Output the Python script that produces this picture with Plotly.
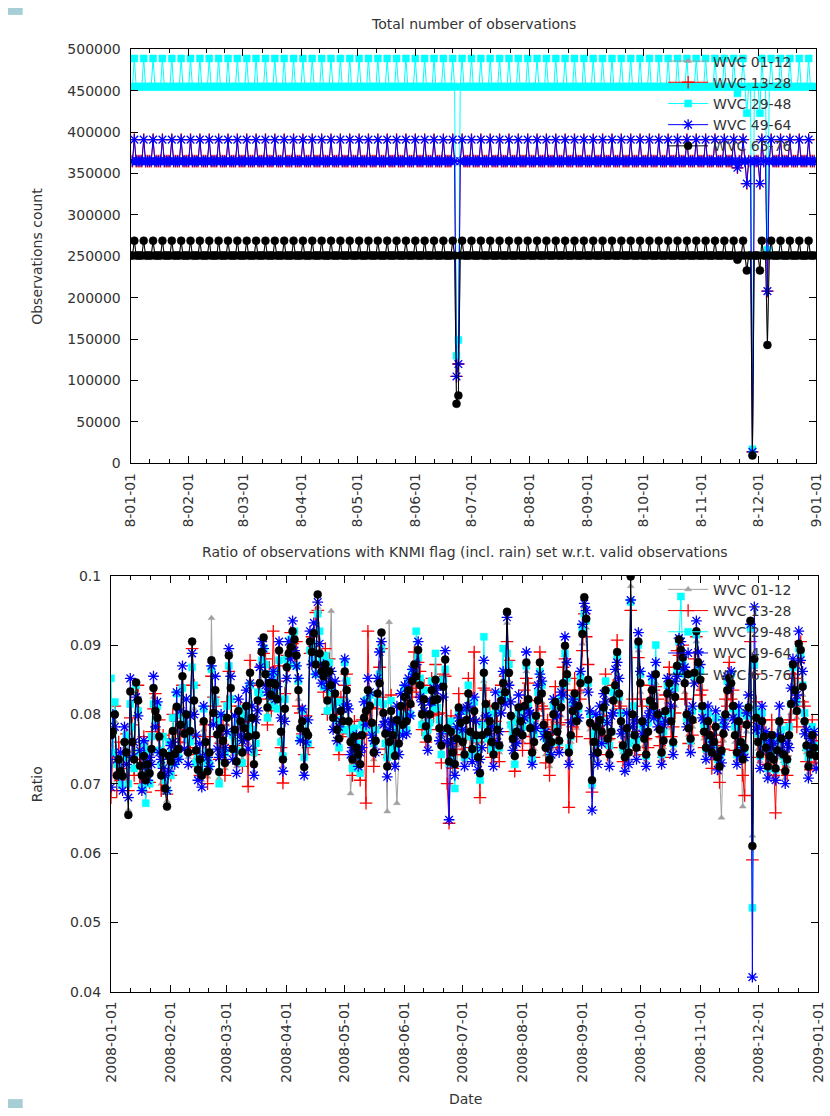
import pandas as pd
import plotly.graph_objects as go

# ---------------- data ----------------
dates = pd.date_range("2008-01-01", "2008-12-31", freq="D")

# Top panel: total number of observations per day, in thousands
# outer swath cells (WVC 01-12 and 65-76)
count_outer_k = [
    251, 251, 269, 251, 251, 251, 251, 269, 251, 251,
    251, 251, 269, 251, 251, 251, 251, 269, 251, 251,
    251, 251, 269, 251, 251, 251, 251, 269, 251, 251,
    251, 251, 269, 251, 251, 251, 251, 269, 251, 251,
    251, 251, 269, 251, 251, 251, 251, 269, 251, 251,
    251, 251, 269, 251, 251, 251, 251, 269, 251, 251,
    251, 251, 269, 251, 251, 251, 251, 269, 251, 251,
    251, 251, 269, 251, 251, 251, 251, 269, 251, 251,
    251, 251, 269, 251, 251, 251, 251, 269, 251, 251,
    251, 251, 269, 251, 251, 251, 251, 269, 251, 251,
    251, 251, 269, 251, 251, 251, 251, 269, 251, 251,
    251, 251, 269, 251, 251, 251, 251, 269, 251, 251,
    251, 251, 269, 251, 251, 251, 251, 269, 251, 251,
    251, 251, 269, 251, 251, 251, 251, 269, 251, 251,
    251, 251, 269, 251, 251, 251, 251, 269, 251, 251,
    251, 251, 269, 251, 251, 251, 251, 269, 251, 251,
    251, 251, 269, 251, 251, 251, 251, 269, 251, 251,
    251, 251, 269, 251, 72, 82, 251, 269, 251, 251,
    251, 251, 269, 251, 251, 251, 251, 269, 251, 251,
    251, 251, 269, 251, 251, 251, 251, 269, 251, 251,
    251, 251, 269, 251, 251, 251, 251, 269, 251, 251,
    251, 251, 269, 251, 251, 251, 251, 269, 251, 251,
    251, 251, 269, 251, 251, 251, 251, 269, 251, 251,
    251, 251, 269, 251, 251, 251, 251, 269, 251, 251,
    251, 251, 269, 251, 251, 251, 251, 269, 251, 251,
    251, 251, 269, 251, 251, 251, 251, 269, 251, 251,
    251, 251, 269, 251, 251, 251, 251, 269, 251, 251,
    251, 251, 269, 251, 251, 251, 251, 269, 251, 251,
    251, 251, 269, 251, 251, 251, 251, 269, 251, 251,
    251, 251, 269, 251, 251, 251, 251, 269, 251, 251,
    251, 251, 269, 251, 251, 251, 251, 269, 251, 251,
    251, 251, 269, 251, 251, 251, 251, 269, 251, 251,
    251, 251, 269, 251, 246, 251, 251, 269, 251, 233,
    251, 251, 9.5, 251, 251, 251, 233, 269, 251, 251,
    143, 251, 269, 251, 251, 251, 251, 269, 251, 251,
    251, 251, 269, 251, 251, 251, 251, 269, 251, 251,
    251, 251, 269, 251, 251, 251,
]
# inner swath cells (WVC 13-28 and 49-64)
count_inner_k = [
    365, 365, 391, 365, 365, 365, 365, 391, 365, 365,
    365, 365, 391, 365, 365, 365, 365, 391, 365, 365,
    365, 365, 391, 365, 365, 365, 365, 391, 365, 365,
    365, 365, 391, 365, 365, 365, 365, 391, 365, 365,
    365, 365, 391, 365, 365, 365, 365, 391, 365, 365,
    365, 365, 391, 365, 365, 365, 365, 391, 365, 365,
    365, 365, 391, 365, 365, 365, 365, 391, 365, 365,
    365, 365, 391, 365, 365, 365, 365, 391, 365, 365,
    365, 365, 391, 365, 365, 365, 365, 391, 365, 365,
    365, 365, 391, 365, 365, 365, 365, 391, 365, 365,
    365, 365, 391, 365, 365, 365, 365, 391, 365, 365,
    365, 365, 391, 365, 365, 365, 365, 391, 365, 365,
    365, 365, 391, 365, 365, 365, 365, 391, 365, 365,
    365, 365, 391, 365, 365, 365, 365, 391, 365, 365,
    365, 365, 391, 365, 365, 365, 365, 391, 365, 365,
    365, 365, 391, 365, 365, 365, 365, 391, 365, 365,
    365, 365, 391, 365, 365, 365, 365, 391, 365, 365,
    365, 365, 391, 365, 105, 120, 365, 391, 365, 365,
    365, 365, 391, 365, 365, 365, 365, 391, 365, 365,
    365, 365, 391, 365, 365, 365, 365, 391, 365, 365,
    365, 365, 391, 365, 365, 365, 365, 391, 365, 365,
    365, 365, 391, 365, 365, 365, 365, 391, 365, 365,
    365, 365, 391, 365, 365, 365, 365, 391, 365, 365,
    365, 365, 391, 365, 365, 365, 365, 391, 365, 365,
    365, 365, 391, 365, 365, 365, 365, 391, 365, 365,
    365, 365, 391, 365, 365, 365, 365, 391, 365, 365,
    365, 365, 391, 365, 365, 365, 365, 391, 365, 365,
    365, 365, 391, 365, 365, 365, 365, 391, 365, 365,
    365, 365, 391, 365, 365, 365, 365, 391, 365, 365,
    365, 365, 391, 365, 365, 365, 365, 391, 365, 365,
    365, 365, 391, 365, 365, 365, 365, 391, 365, 365,
    365, 365, 391, 365, 365, 365, 365, 391, 365, 365,
    365, 365, 391, 365, 357, 365, 365, 391, 365, 338,
    365, 365, 14, 365, 365, 365, 338, 391, 365, 365,
    208, 365, 391, 365, 365, 365, 365, 391, 365, 365,
    365, 365, 391, 365, 365, 365, 365, 391, 365, 365,
    365, 365, 391, 365, 365, 365,
]
# middle swath cells (WVC 29-48)
count_mid_k = [
    455, 455, 489, 455, 455, 455, 455, 489, 455, 455,
    455, 455, 489, 455, 455, 455, 455, 489, 455, 455,
    455, 455, 489, 455, 455, 455, 455, 489, 455, 455,
    455, 455, 489, 455, 455, 455, 455, 489, 455, 455,
    455, 455, 489, 455, 455, 455, 455, 489, 455, 455,
    455, 455, 489, 455, 455, 455, 455, 489, 455, 455,
    455, 455, 489, 455, 455, 455, 455, 489, 455, 455,
    455, 455, 489, 455, 455, 455, 455, 489, 455, 455,
    455, 455, 489, 455, 455, 455, 455, 489, 455, 455,
    455, 455, 489, 455, 455, 455, 455, 489, 455, 455,
    455, 455, 489, 455, 455, 455, 455, 489, 455, 455,
    455, 455, 489, 455, 455, 455, 455, 489, 455, 455,
    455, 455, 489, 455, 455, 455, 455, 489, 455, 455,
    455, 455, 489, 455, 455, 455, 455, 489, 455, 455,
    455, 455, 489, 455, 455, 455, 455, 489, 455, 455,
    455, 455, 489, 455, 455, 455, 455, 489, 455, 455,
    455, 455, 489, 455, 455, 455, 455, 489, 455, 455,
    455, 455, 489, 455, 130, 149, 455, 489, 455, 455,
    455, 455, 489, 455, 455, 455, 455, 489, 455, 455,
    455, 455, 489, 455, 455, 455, 455, 489, 455, 455,
    455, 455, 489, 455, 455, 455, 455, 489, 455, 455,
    455, 455, 489, 455, 455, 455, 455, 489, 455, 455,
    455, 455, 489, 455, 455, 455, 455, 489, 455, 455,
    455, 455, 489, 455, 455, 455, 455, 489, 455, 455,
    455, 455, 489, 455, 455, 455, 455, 489, 455, 455,
    455, 455, 489, 455, 455, 455, 455, 489, 455, 455,
    455, 455, 489, 455, 455, 455, 455, 489, 455, 455,
    455, 455, 489, 455, 455, 455, 455, 489, 455, 455,
    455, 455, 489, 455, 455, 455, 455, 489, 455, 455,
    455, 455, 489, 455, 455, 455, 455, 489, 455, 455,
    455, 455, 489, 455, 455, 455, 455, 489, 455, 455,
    455, 455, 489, 455, 455, 455, 455, 489, 455, 455,
    455, 455, 489, 455, 447, 455, 455, 489, 455, 423,
    455, 455, 17, 455, 455, 455, 423, 489, 455, 455,
    258, 455, 489, 455, 455, 455, 455, 489, 455, 455,
    455, 455, 489, 455, 455, 455, 455, 489, 455, 455,
    455, 455, 489, 455, 455, 455,
]

# Bottom panel: ratio of KNMI-flagged observations, in units of 1e-4 (one line per month)
ratio_01_12_e4 = [
    755, 768, 790, 705, 728, 700, 695, 752, 738, 662, 818, 748, 722, 830, 810, 715, 700, 728, 698, 720, 705, 742, 825, 790, 780, 752, 700, 738, 688, 675, 730,
    722, 765, 735, 800, 742, 772, 840, 760, 790, 738, 765, 885, 808, 738, 712, 726, 705, 778, 750, 710, 735, 939, 790, 820, 760, 708, 770, 752, 722,
    785, 870, 825, 742, 765, 725, 795, 780, 735, 770, 800, 758, 848, 782, 718, 760, 808, 832, 875, 895, 845, 800, 832, 815, 835, 830, 810, 878, 765, 725, 795,
    855, 875, 885, 905, 895, 870, 822, 770, 778, 715, 765, 760, 892, 875, 902, 862, 955, 875, 850, 845, 862, 808, 850, 949, 785, 818, 768, 752, 795, 778,
    850, 822, 780, 686, 728, 758, 742, 732, 718, 760, 785, 795, 822, 800, 778, 735, 752, 818, 832, 905, 790, 762, 660, 933, 795, 760, 730, 672, 748, 800, 775,
    812, 780, 822, 805, 835, 860, 842, 878, 830, 790, 810, 772, 755, 790, 822, 808, 838, 810, 770, 745, 828, 865, 770, 725, 765, 735, 718, 755, 798, 778,
    750, 732, 780, 818, 765, 740, 795, 760, 728, 705, 760, 848, 805, 765, 780, 750, 732, 800, 768, 745, 808, 832, 820, 932, 848, 788, 755, 730, 765, 798, 780,
    760, 800, 862, 810, 770, 735, 750, 788, 808, 862, 818, 775, 742, 760, 725, 750, 790, 805, 765, 752, 798, 832, 885, 845, 735, 760, 795, 818, 780, 800, 832,
    902, 955, 925, 838, 778, 695, 750, 772, 735, 780, 765, 798, 822, 755, 732, 765, 808, 830, 878, 818, 780, 745, 728, 770, 735, 985, 790, 760, 742, 892,
    832, 780, 755, 732, 765, 808, 822, 800, 845, 790, 768, 735, 752, 795, 818, 832, 780, 750, 812, 858, 895, 880, 870, 832, 790, 770, 755, 782, 848, 905, 862,
    838, 800, 765, 742, 780, 760, 735, 750, 772, 728, 715, 651, 762, 790, 822, 840, 832, 800, 760, 735, 780, 750, 667, 742, 775, 798, 920, 625, 868, 785,
    750, 732, 780, 758, 742, 715, 730, 760, 725, 712, 738, 780, 755, 732, 708, 725, 760, 802, 860, 822, 795, 888, 880, 828, 780, 745, 715, 732, 760, 742, 730,
]
ratio_13_28_e4 = [
    680, 745, 812, 690, 760, 705, 722, 738, 772, 690, 795, 785, 712, 818, 842, 700, 735, 768, 688, 752, 702, 775, 808, 830, 770, 792, 690, 770, 715, 685, 765,
    712, 800, 765, 790, 772, 760, 842, 795, 778, 768, 752, 895, 842, 725, 742, 712, 735, 768, 785, 700, 768, 855, 825, 812, 792, 735, 758, 785, 712,
    818, 862, 812, 772, 755, 750, 782, 812, 725, 798, 790, 696, 878, 772, 742, 748, 842, 822, 870, 888, 880, 785, 868, 805, 920, 825, 848, 870, 752, 701, 830,
    885, 870, 918, 902, 885, 905, 812, 802, 772, 742, 798, 752, 888, 912, 898, 947, 950, 868, 885, 832, 895, 800, 880, 825, 818, 808, 800, 742, 825, 772,
    842, 858, 768, 782, 712, 790, 730, 765, 705, 792, 772, 672, 920, 790, 810, 725, 782, 808, 868, 895, 825, 750, 742, 738, 828, 748, 762, 770, 780, 795, 808,
    805, 812, 812, 838, 825, 890, 832, 875, 862, 778, 842, 760, 788, 778, 852, 798, 872, 800, 802, 730, 858, 855, 700, 643, 798, 722, 750, 742, 830, 770,
    742, 765, 770, 852, 752, 772, 890, 748, 760, 680, 792, 838, 835, 752, 812, 738, 765, 790, 800, 732, 842, 822, 855, 905, 878, 775, 788, 718, 798, 785, 812,
    748, 835, 852, 845, 758, 768, 738, 820, 798, 890, 812, 808, 730, 792, 712, 782, 778, 840, 752, 785, 788, 868, 880, 835, 666, 792, 782, 852, 768, 835, 822,
    892, 945, 912, 872, 765, 688, 782, 760, 768, 770, 798, 788, 858, 742, 765, 752, 842, 820, 907, 808, 812, 732, 760, 758, 768, 950, 822, 748, 775, 882,
    822, 812, 742, 765, 752, 842, 812, 835, 840, 822, 755, 768, 738, 828, 808, 868, 768, 782, 802, 892, 885, 870, 900, 822, 822, 758, 788, 770, 880, 912, 852,
    828, 835, 752, 775, 768, 792, 722, 782, 760, 755, 702, 770, 750, 822, 812, 875, 822, 835, 748, 768, 768, 782, 712, 683, 805, 788, 905, 590, 858, 818,
    738, 765, 768, 792, 728, 748, 718, 792, 712, 658, 770, 768, 788, 720, 740, 712, 792, 792, 858, 852, 782, 875, 905, 818, 812, 732, 748, 720, 792, 730, 762,
]
ratio_29_48_e4 = [
    852, 745, 818, 728, 712, 698, 742, 738, 770, 700, 815, 782, 722, 842, 805, 745, 695, 758, 672, 748, 700, 768, 815, 792, 812, 748, 728, 768, 705, 690, 760,
    712, 795, 730, 830, 738, 800, 838, 790, 785, 765, 760, 868, 842, 730, 738, 718, 730, 808, 745, 735, 728, 865, 822, 818, 790, 700, 798, 745, 745,
    812, 870, 822, 770, 760, 748, 790, 808, 730, 798, 800, 782, 842, 778, 745, 758, 832, 830, 878, 895, 872, 795, 858, 812, 832, 860, 808, 878, 760, 740, 822,
    880, 872, 908, 910, 920, 870, 848, 765, 805, 738, 790, 758, 892, 878, 900, 858, 945, 920, 878, 840, 885, 805, 875, 832, 810, 818, 792, 752, 818, 778,
    875, 848, 778, 772, 722, 780, 740, 758, 715, 785, 780, 820, 822, 828, 775, 758, 778, 818, 858, 895, 815, 758, 738, 748, 820, 755, 752, 780, 772, 800, 798,
    838, 778, 848, 800, 862, 860, 920, 882, 852, 785, 835, 770, 778, 788, 848, 808, 888, 810, 792, 742, 850, 865, 778, 730, 790, 735, 693, 778, 805, 775,
    772, 738, 805, 842, 768, 742, 818, 765, 750, 705, 785, 912, 808, 765, 800, 750, 755, 805, 782, 752, 830, 895, 825, 888, 872, 785, 775, 728, 790, 802, 795,
    782, 808, 870, 815, 792, 735, 772, 798, 832, 862, 842, 775, 765, 768, 740, 758, 812, 812, 780, 760, 822, 842, 888, 852, 752, 768, 818, 825, 795, 808, 855,
    925, 945, 935, 845, 800, 700, 772, 780, 758, 795, 790, 808, 848, 762, 755, 775, 832, 838, 885, 825, 802, 752, 748, 778, 758, 962, 812, 768, 762, 900,
    858, 785, 775, 740, 788, 818, 848, 808, 900, 795, 788, 742, 775, 802, 842, 840, 802, 758, 838, 862, 905, 970, 875, 858, 795, 792, 762, 805, 855, 915, 870,
    862, 808, 785, 750, 802, 765, 755, 758, 795, 735, 738, 745, 785, 798, 848, 850, 858, 808, 782, 742, 802, 758, 748, 750, 798, 810, 925, 521, 872, 805,
    772, 740, 802, 762, 765, 722, 752, 768, 748, 720, 762, 790, 778, 740, 732, 735, 782, 815, 868, 835, 818, 895, 888, 842, 802, 752, 738, 745, 782, 755, 752,
]
ratio_49_64_e4 = [
    695, 800, 782, 735, 712, 745, 690, 782, 728, 680, 852, 738, 760, 825, 798, 748, 690, 762, 725, 705, 738, 728, 855, 782, 818, 745, 735, 722, 712, 690, 718,
    755, 760, 728, 832, 735, 805, 870, 750, 822, 728, 798, 888, 800, 770, 705, 758, 695, 812, 742, 738, 725, 870, 785, 855, 750, 738, 800, 742, 752,
    775, 895, 855, 735, 798, 715, 822, 770, 762, 765, 835, 750, 845, 812, 712, 792, 805, 868, 905, 895, 842, 832, 828, 850, 862, 822, 840, 905, 795, 718, 790,
    852, 905, 880, 935, 892, 870, 852, 762, 808, 712, 760, 792, 920, 872, 932, 858, 962, 902, 845, 872, 855, 838, 845, 862, 778, 848, 762, 782, 790, 808,
    880, 815, 808, 742, 752, 748, 770, 725, 745, 752, 818, 785, 852, 832, 770, 762, 745, 852, 890, 905, 785, 790, 710, 778, 790, 788, 725, 812, 742, 830, 770,
    842, 772, 852, 798, 865, 858, 872, 905, 825, 818, 805, 800, 748, 818, 818, 838, 835, 840, 762, 772, 825, 892, 760, 648, 758, 765, 712, 782, 795, 805,
    778, 725, 810, 812, 792, 732, 825, 790, 720, 735, 752, 878, 798, 795, 772, 782, 725, 832, 760, 775, 802, 862, 815, 940, 842, 818, 748, 760, 758, 828, 772,
    792, 795, 890, 805, 802, 728, 782, 780, 842, 858, 848, 768, 775, 752, 758, 742, 822, 800, 798, 745, 832, 828, 912, 875, 728, 788, 822, 812, 812, 795, 862,
    930, 960, 950, 832, 805, 662, 742, 800, 728, 812, 758, 830, 818, 788, 725, 798, 802, 865, 875, 852, 772, 778, 718, 802, 728, 965, 782, 792, 735, 918,
    862, 772, 788, 725, 798, 805, 855, 795, 875, 782, 800, 728, 785, 790, 852, 832, 812, 742, 848, 855, 910, 905, 865, 868, 782, 802, 745, 812, 845, 935, 890,
    872, 795, 792, 735, 812, 752, 765, 742, 805, 720, 742, 730, 792, 782, 855, 838, 862, 795, 792, 728, 812, 742, 752, 738, 802, 828, 930, 421, 955, 778,
    782, 722, 812, 750, 775, 708, 762, 752, 758, 705, 770, 812, 745, 765, 700, 758, 752, 838, 880, 818, 828, 920, 878, 862, 772, 778, 708, 765, 752, 775, 722,
]
ratio_65_76_e4 = [
    770, 775, 800, 712, 735, 718, 711, 760, 745, 655, 833, 760, 735, 846, 820, 726, 712, 740, 705, 728, 715, 750, 838, 805, 795, 768, 712, 745, 693, 667, 740,
    732, 776, 743, 811, 750, 785, 855, 772, 800, 745, 776, 905, 820, 748, 720, 735, 712, 790, 760, 718, 745, 878, 802, 835, 771, 717, 780, 762, 730,
    795, 885, 838, 750, 778, 732, 805, 790, 745, 780, 812, 768, 860, 795, 728, 770, 820, 845, 890, 911, 858, 810, 845, 828, 845, 843, 822, 892, 775, 735, 808,
    868, 888, 897, 920, 908, 885, 835, 780, 790, 724, 775, 770, 905, 890, 917, 872, 973, 888, 862, 855, 872, 820, 862, 842, 795, 830, 778, 765, 805, 790,
    862, 835, 790, 760, 735, 768, 752, 742, 728, 770, 795, 805, 835, 812, 788, 745, 762, 830, 845, 918, 802, 772, 725, 760, 805, 770, 740, 792, 758, 812, 785,
    825, 790, 835, 815, 848, 872, 855, 893, 842, 800, 822, 783, 765, 800, 835, 820, 850, 822, 780, 755, 840, 879, 780, 732, 775, 745, 728, 765, 810, 788,
    760, 742, 792, 830, 775, 750, 805, 770, 738, 715, 770, 860, 815, 775, 790, 760, 742, 812, 778, 755, 820, 845, 832, 948, 860, 798, 765, 740, 775, 810, 790,
    770, 812, 875, 822, 780, 745, 760, 798, 820, 875, 830, 785, 752, 770, 735, 760, 800, 818, 775, 762, 810, 845, 899, 858, 745, 770, 805, 830, 790, 812, 845,
    916, 969, 938, 850, 788, 705, 760, 782, 745, 792, 775, 810, 835, 765, 742, 775, 820, 842, 890, 830, 790, 755, 738, 780, 745, 999, 800, 770, 752, 905,
    845, 790, 765, 742, 775, 820, 835, 812, 858, 800, 778, 745, 762, 805, 830, 845, 790, 760, 825, 870, 908, 893, 882, 845, 800, 780, 765, 792, 860, 920, 875,
    850, 812, 775, 752, 790, 770, 745, 760, 782, 738, 725, 748, 772, 800, 835, 852, 845, 812, 770, 745, 790, 760, 735, 752, 785, 810, 935, 610, 880, 795,
    760, 742, 790, 768, 752, 725, 740, 770, 735, 722, 748, 790, 765, 742, 718, 735, 770, 815, 872, 835, 805, 902, 893, 840, 790, 755, 725, 742, 770, 752, 740,
]

series_names = ["WVC 01-12", "WVC 13-28", "WVC 29-48", "WVC 49-64", "WVC 65-76"]
count_lists = [count_outer_k, count_inner_k, count_mid_k, count_inner_k, count_outer_k]
ratio_lists = [ratio_01_12_e4, ratio_13_28_e4, ratio_29_48_e4, ratio_49_64_e4, ratio_65_76_e4]

ratio_ticks = [0.04, 0.05, 0.06, 0.07, 0.08, 0.09, 0.1]
ratio_tick_text = ["0.04", "0.05", "0.06", "0.07", "0.08", "0.09", "0.1"]
count_ticks = [0, 50000, 100000, 150000, 200000, 250000, 300000, 350000, 400000, 450000, 500000]

for lst in count_lists + ratio_lists:
    assert len(lst) == len(dates), len(lst)

# ---------------- styling ----------------
W, H = 830, 1116
FONT = "DejaVu Sans"
TXT = "#333333"

colors = ["#a0a0a0", "#ff0000", "#00ffff", "#0000ff", "#000000"]
symbols = ["triangle-up", "cross-thin", "square", "asterisk-open", "circle"]
sizes = [6, 9, 7, 9, 8]

def px(p):
    return p / W

def py(p):
    return 1 - p / H

fig = go.Figure()

for panel in (1, 2):
    for i, name in enumerate(series_names):
        c = colors[i]
        if panel == 1:
            yv = [v * 1000 for v in count_lists[i]]
        else:
            yv = [v / 1e4 for v in ratio_lists[i]]
        open_sym = symbols[i] in ("cross-thin", "asterisk-open")
        fig.add_trace(go.Scatter(
            x=dates, y=yv, name=name, mode="lines+markers",
            line=dict(color=c, width=1),
            marker=dict(symbol=symbols[i], size=sizes[i], color=c,
                        line=dict(color=c, width=1.3 if open_sym else 0.5)),
            xaxis="x" if panel == 1 else "x2",
            yaxis="y" if panel == 1 else "y2",
            legend="legend" if panel == 1 else "legend2",
        ))

# month-third minor ticks
month_starts = pd.date_range("2008-01-01", "2008-12-01", freq="MS")
minor_vals = []
for ms in month_starts:
    nd = ms.days_in_month
    minor_vals.append(ms + pd.Timedelta(days=nd / 3))
    minor_vals.append(ms + pd.Timedelta(days=2 * nd / 3))

common_x = dict(
    type="date", range=["2008-01-01", "2009-01-01"], tickformat="%Y-%m-%d",
    dtick="M1", tick0="2008-01-01", tickangle=-90, ticklabeloverflow="allow",
    ticks="inside", ticklen=7, tickcolor="black", mirror="ticks", ticklabelstandoff=3,
    showline=True, linecolor="black", linewidth=1, showgrid=False, zeroline=False,
    tickfont=dict(family=FONT, size=14, color=TXT),
    minor=dict(tickmode="array", tickvals=minor_vals, ticks="inside", ticklen=4,
               tickcolor="black", showgrid=False),
)
common_y = dict(
    ticks="inside", ticklen=7, tickcolor="black", mirror="ticks", ticklabelstandoff=6,
    showline=True, linecolor="black", linewidth=1, showgrid=False, zeroline=False,
    tickfont=dict(family=FONT, size=14, color=TXT),
)

fig.update_layout(
    width=W, height=H, margin=dict(l=0, r=0, t=0, b=0),
    paper_bgcolor="white", plot_bgcolor="white",
    font=dict(family=FONT, size=14, color=TXT),
    xaxis=dict(domain=[px(125), px(824)], anchor="y", **common_x),
    yaxis=dict(domain=[py(462), py(42)], anchor="x", range=[0, 500000],
               tickvals=count_ticks, tickformat="d", **common_y),
    xaxis2=dict(domain=[px(105), px(826)], anchor="y2", **common_x),
    yaxis2=dict(domain=[py(998), py(576)], anchor="x2", range=[0.04, 0.1],
                tickvals=ratio_ticks, ticktext=ratio_tick_text, **common_y),
    legend=dict(x=px(668), y=py(38), xanchor="left", yanchor="top",
                bgcolor="rgba(0,0,0,0)", font=dict(family=FONT, size=14, color=TXT),
                itemwidth=40, tracegroupgap=0),
    legend2=dict(x=px(668), y=py(574), xanchor="left", yanchor="top",
                 bgcolor="rgba(0,0,0,0)", font=dict(family=FONT, size=14, color=TXT),
                 itemwidth=40, tracegroupgap=0),
    showlegend=True,
    shapes=[
        # bottom panel background hides the lower part of the upper panel's date labels
        dict(type="rect", xref="paper", yref="paper", x0=px(90), x1=1,
             y0=py(568), y1=py(526), fillcolor="white", line=dict(width=0), layer="above"),
        dict(type="rect", xref="paper", yref="paper", x0=0, x1=px(15),
             y0=py(7), y1=1, fillcolor="#a6cfd5", line=dict(width=0), layer="above"),
        dict(type="rect", xref="paper", yref="paper", x0=0, x1=px(15),
             y0=0, y1=py(1107), fillcolor="#a6cfd5", line=dict(width=0), layer="above"),
    ],
    annotations=[
        dict(text="Total number of observations", x=px(474.5), y=py(16), xref="paper", yref="paper",
             xanchor="center", yanchor="middle", showarrow=False, font=dict(size=14, color=TXT)),
        dict(text="Ratio of observations with KNMI flag (incl. rain) set w.r.t. valid observations",
             x=px(465.5), y=py(552), xref="paper", yref="paper",
             xanchor="center", yanchor="middle", showarrow=False, font=dict(size=14, color=TXT)),
        dict(text="Observations count", x=px(30), y=py(252), xref="paper", yref="paper",
             textangle=-90, xanchor="center", yanchor="middle", showarrow=False,
             font=dict(size=14, color=TXT)),
        dict(text="Ratio", x=px(29), y=py(787), xref="paper", yref="paper",
             textangle=-90, xanchor="center", yanchor="middle", showarrow=False,
             font=dict(size=14, color=TXT)),
        dict(text="Date", x=px(466), y=py(1107), xref="paper", yref="paper",
             xanchor="center", yanchor="middle", showarrow=False, font=dict(size=14, color=TXT)),
    ],
)

fig.write_html(
    "out.html",
    config={"displayModeBar": False},
    post_script="document.body.style.margin='0';document.body.style.padding='0';"
                "document.documentElement.style.overflow='hidden';",
)
